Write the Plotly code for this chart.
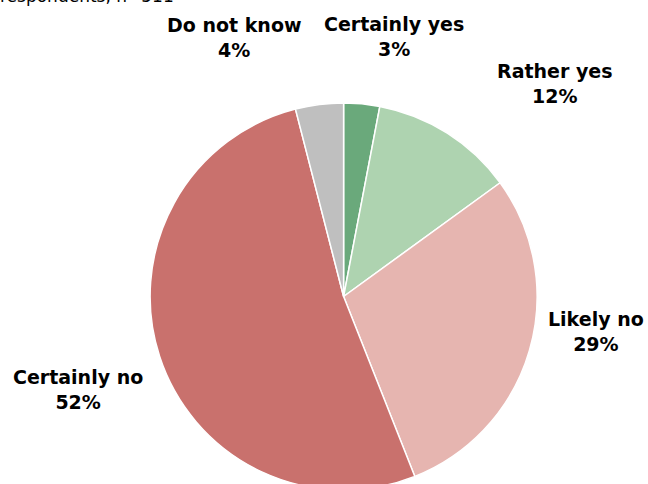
import plotly.graph_objects as go

labels = ["Certainly yes", "Rather yes", "Likely no", "Certainly no", "Do not know"]
values = [3, 12, 29, 52, 4]
colors = ["#6aa97b", "#aed3b0", "#e6b5b0", "#c9716d", "#bfbfbf"]
subtitle = "respondents, n=511"

W, H = 648, 490  # a few px taller than the window: the pie's bottom is cut in the reference
CX, TOP, R = 343.6, 103, 193.5

# label block centres in pixels (layout only)
label_pos = {
    "Certainly yes": (393.5, 36.5),
    "Rather yes": (555, 83),
    "Likely no": (595.5, 331),
    "Certainly no": (78, 389),
    "Do not know": (233.5, 37),
}

fig = go.Figure(go.Pie(
    labels=labels,
    values=values,
    sort=False,
    direction="clockwise",
    rotation=0,
    marker=dict(colors=colors, line=dict(color="white", width=1.5)),
    textinfo="none",
    hoverinfo="label+percent",
    domain=dict(x=[(CX - R) / W, (CX + R) / W], y=[0, 1 - TOP / H]),
    showlegend=False,
))

annotations = []
for lab, val in zip(labels, values):
    px, py = label_pos[lab]
    annotations.append(dict(
        x=px / W, y=1 - py / H, xref="paper", yref="paper",
        text=f"<b>{lab}<br>{val}%</b>", showarrow=False,
        xanchor="center", yanchor="middle", align="center",
        font=dict(family="DejaVu Sans", size=19, color="#000000"),
    ))
annotations.append(dict(
    x=-2 / W, y=1 + 4 / H, xref="paper", yref="paper",
    text=subtitle, showarrow=False, xanchor="left", yanchor="middle",
    font=dict(family="DejaVu Sans", size=17, color="#000000"),
))

fig.update_layout(
    width=W, height=H,
    margin=dict(l=0, r=0, t=0, b=0),
    paper_bgcolor="white", plot_bgcolor="white",
    annotations=annotations,
)

fig.write_html(
    "out.html",
    config={"displayModeBar": False},
    post_script="document.body.style.margin='0';document.body.style.overflow='hidden';",
)
